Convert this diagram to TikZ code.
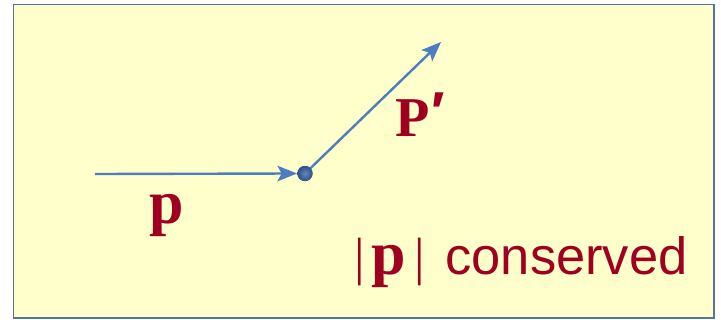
\documentclass[tikz,border=0pt]{standalone}
\usepackage{fontspec}
\setmainfont{Liberation Serif}
\setsansfont{Liberation Sans}
\usetikzlibrary{arrows.meta, positioning}
\definecolor{paperyel}{RGB}{255,255,204}
\definecolor{framebl}{RGB}{88,116,158}
\definecolor{vecblue}{RGB}{74,126,190}
\definecolor{dotblue}{RGB}{50,95,160}
\definecolor{labred}{RGB}{160,0,32}

\begin{document}
\begin{tikzpicture}[
    x=0.025cm, y=-0.025cm,
    frame/.style={draw=framebl, line width=1.1pt, fill=paperyel},
    vec/.style={-{Stealth[length=14pt, width=11pt, inset=3pt]}, line width=1.7pt, color=vecblue},
    dot/.style={circle, inner sep=0pt, minimum size=10.8pt,
        inner color=dotblue!75!white, outer color=dotblue!85!black},
    vlab/.style={font=\fontsize{44}{44}\selectfont\bfseries, text=labred, inner sep=0pt},
    note/.style={font=\fontsize{37.3}{37.3}\selectfont\sffamily, text=labred, inner sep=0pt}
]
\useasboundingbox (0,0) rectangle (721,320);
\draw[frame] (13.5,4.5) rectangle (714,318);

\coordinate (in) at (95,174);
\node[dot] (vtx) at (305,173.5) {};
\coordinate (out) at (441,42);

\draw[vec] (in) -- (vtx.west);
\draw[vec] (vtx.center) -- (out);
\node[dot] at (vtx) {};

\node[vlab, anchor=base] (plab) at (167,223) {p};
\node[vlab, anchor=base west, font=\fontsize{40}{40}\selectfont\bfseries] (pplab) at (395,137) {P\kern1pt\raisebox{4pt}{\sffamily\bfseries\fontsize{40}{40}\selectfont\char"2032}};
\node[note, anchor=base west] (cons) at (354,274) {{\rmfamily\mdseries |}\kern5pt{\rmfamily\bfseries\fontsize{44}{44}\selectfont p}\kern6pt{\rmfamily\mdseries |}\kern14.5pt conserved};

\end{tikzpicture}
\end{document}
